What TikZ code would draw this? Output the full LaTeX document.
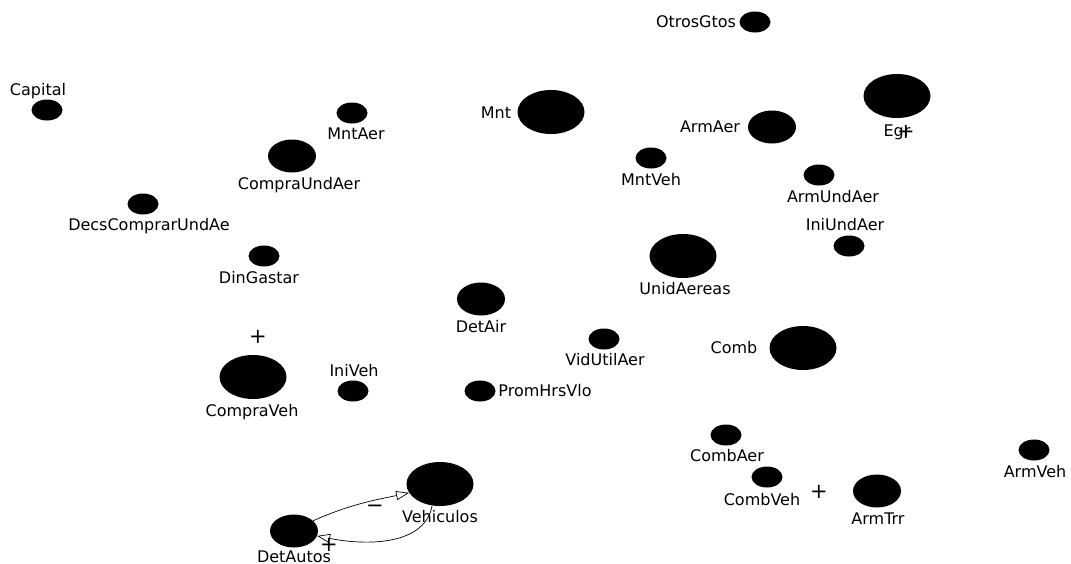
\documentclass[tikz,border=0pt]{standalone}
\usepackage{fontspec}
\setmainfont{DejaVu Sans}
\usetikzlibrary{shapes.geometric,arrows.meta}
\begin{document}
\begin{tikzpicture}[x=1pt,y=-1pt,
  var/.style={ellipse,fill=black,draw=none,inner sep=0pt},
  sm/.style={var,minimum width=31pt,minimum height=21pt},
  md/.style={var,minimum width=48pt,minimum height=33pt},
  lg/.style={var,minimum width=67pt,minimum height=44pt},
  lbl/.style={font=\fontsize{16}{19}\selectfont,inner sep=0pt},
  sgn/.style={font=\fontsize{21}{21}\selectfont,inner sep=0pt},
  link/.style={line width=0.7pt,-{Triangle[open,length=13pt,width=9pt]}}
]
\fill[white] (0,0) rectangle (1071,563);
\useasboundingbox (0,0) rectangle (1071,563);

% variables
\node[sm] (OtrosGtos) at (755,22) {};
\node[lbl] (lOtrosGtos) at (696,22) {OtrosGtos};
\node[sm] (Capital) at (47,110) {};
\node[lbl] (lCapital) at (38,91) {Capital};
\node[sm] (MntAer) at (352,113) {};
\node[lbl] (lMntAer) at (356,134) {MntAer};
\node[md] (CompraUndAer) at (292,156) {};
\node[lbl] (lCompraUndAer) at (299,185) {CompraUndAer};
\node[lg] (Mnt) at (551,112) {};
\node[lbl] (lMnt) at (496,113) {Mnt};
\node[lg] (Egr) at (897,96) {};
\node[lbl] (lEgr) at (897,132) {Egr};
\node[sgn] (pEgr) at (906,132) {+};
\node[md] (ArmAer) at (772,127) {};
\node[lbl] (lArmAer) at (710,127) {ArmAer};
\node[sm] (MntVeh) at (651,158) {};
\node[lbl] (lMntVeh) at (651,180) {MntVeh};
\node[sm] (ArmUndAer) at (819,175) {};
\node[lbl] (lArmUndAer) at (833,197) {ArmUndAer};
\node[sm] (DecsComprarUndAe) at (143,204) {};
\node[lbl] (lDecsComprarUndAe) at (149,226) {DecsComprarUndAe};
\node[sm] (IniUndAer) at (849,246) {};
\node[lbl] (lIniUndAer) at (845,225) {IniUndAer};
\node[sm] (DinGastar) at (264,256) {};
\node[lbl] (lDinGastar) at (259,278) {DinGastar};
\node[lg] (UnidAereas) at (683,256) {};
\node[lbl] (lUnidAereas) at (685,289) {UnidAereas};
\node[md] (DetAir) at (481,299) {};
\node[lbl] (lDetAir) at (481,327) {DetAir};
\node[sm] (VidUtilAer) at (604,339) {};
\node[lbl] (lVidUtilAer) at (605,360) {VidUtilAer};
\node[lg] (Comb) at (803,348) {};
\node[lbl] (lComb) at (734,348) {Comb};
\node[sgn] (pCompraVeh) at (258,337) {+};
\node[lg] (CompraVeh) at (253,377) {};
\node[lbl] (lCompraVeh) at (252,412) {CompraVeh};
\node[sm] (IniVeh) at (353,391) {};
\node[lbl] (lIniVeh) at (354,371) {IniVeh};
\node[sm] (PromHrsVlo) at (480,391) {};
\node[lbl] (lPromHrsVlo) at (545,391) {PromHrsVlo};
\node[sm] (CombAer) at (726,435) {};
\node[lbl] (lCombAer) at (727,456) {CombAer};
\node[sm] (ArmVeh) at (1034,450) {};
\node[lbl] (lArmVeh) at (1035,472) {ArmVeh};
\node[sm] (CombVeh) at (767,477) {};
\node[lbl] (lCombVeh) at (762,500) {CombVeh};
\node[sgn] (pCombVeh) at (819,492) {+};
\node[md] (ArmTrr) at (877,491) {};
\node[lbl] (lArmTrr) at (878,519) {ArmTrr};
\node[lg] (Vehiculos) at (440,484) {};
\node[lbl] (lVehiculos) at (440,517) {Vehiculos};
\node[md] (DetAutos) at (294,531) {};
\node[lbl] (lDetAutos) at (294,557) {DetAutos};

% feedback loop between DetAutos and Vehiculos
\draw[link] (DetAutos.28) .. controls (350,504) and (380,499) .. (Vehiculos.196);
\draw[link] (Vehiculos.250) .. controls (425,545) and (368,546) .. (DetAutos.348);
\node[sgn] (mLoop) at (375,509) {−};
\node[sgn] (pLoop) at (329,545) {+};
\end{tikzpicture}
\end{document}
